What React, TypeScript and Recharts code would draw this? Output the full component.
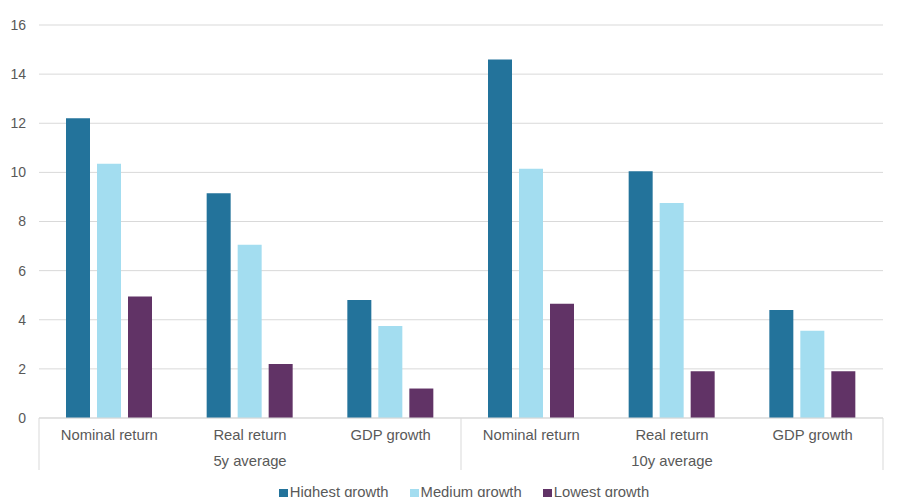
import { BarChart, Bar, XAxis, YAxis, CartesianGrid, Legend } from 'recharts';

const categories = ['Nominal return', 'Real return', 'GDP growth', 'Nominal return', 'Real return', 'GDP growth'];
const periods = ['5y average', '5y average', '5y average', '10y average', '10y average', '10y average'];
const highestGrowth = [12.2, 9.15, 4.8, 14.6, 10.05, 4.4];
const mediumGrowth = [10.35, 7.05, 3.75, 10.15, 8.75, 3.55];
const lowestGrowth = [4.95, 2.2, 1.2, 4.65, 1.9, 1.9];
const seriesNames = ['Highest growth', 'Medium growth', 'Lowest growth'];
const yTicks = [0, 2, 4, 6, 8, 10, 12, 14, 16];

const data = categories.map((name, i) => ({
  key: `${periods[i]}|${name}`,
  name,
  period: periods[i],
  highest: highestGrowth[i],
  medium: mediumGrowth[i],
  lowest: lowestGrowth[i],
}));

const TEXT = '#595959';
const LINE = '#d9d9d9';
const FONT = '"Liberation Sans", Arial, sans-serif';
const FS = 14.8;

// two-level category axis: category name, period label under the middle one, separators between periods
function CategoryTick(props: any) {
  const { x, y, payload, index } = props;
  const half = payload?.offset ?? 70.3;
  const row = data[index];
  const groupStart = index === 0 || row.period !== data[index - 1].period;
  const groupEnd = index === data.length - 1;
  const groupMiddle = index === 1 || index === 4;
  return (
    <g>
      <text x={x} y={y + 22} textAnchor="middle" fill={TEXT} fontSize={FS} fontFamily={FONT}>
        {row.name}
      </text>
      {groupMiddle && (
        <text x={x} y={y + 48} textAnchor="middle" fill={TEXT} fontSize={FS} fontFamily={FONT}>
          {row.period}
        </text>
      )}
      {groupStart && <line x1={x - half} x2={x - half} y1={y} y2={y + 52} stroke={LINE} />}
      {groupEnd && <line x1={x + half} x2={x + half} y1={y} y2={y + 52} stroke={LINE} />}
    </g>
  );
}

export default function App() {
  return (
    <div style={{ position: 'absolute', left: 0, top: 0, width: 912, height: 497, background: '#fff', overflow: 'hidden' }}>
      <BarChart
        width={912}
        height={497}
        data={data}
        margin={{ top: 25, right: 0, left: 0, bottom: 0 }}
        barSize={24}
        barGap={7}
      >
        <CartesianGrid vertical={false} stroke={LINE} yAxisId="left" />
        <XAxis
          dataKey="key"
          height={59}
          interval={0}
          tickLine={false}
          tickSize={0}
          tickMargin={0}
          axisLine={{ stroke: LINE }}
          tick={<CategoryTick />}
        />
        <YAxis
          yAxisId="left"
          orientation="left"
          width={39}
          domain={[0, 16]}
          ticks={yTicks}
          axisLine={false}
          tickLine={false}
          tickSize={0}
          tickMargin={13}
          tick={{ fill: TEXT, fontSize: 14, fontFamily: FONT }}
        />
        <YAxis
          yAxisId="right"
          orientation="right"
          width={29}
          domain={[0, 16]}
          ticks={yTicks}
          axisLine={false}
          tickLine={false}
          tickSize={0}
          tickMargin={10}
          tick={{ fill: TEXT, fontSize: 14, fontFamily: FONT, textAnchor: 'start' }}
        />
        <Legend
          verticalAlign="bottom"
          align="center"
          iconType="square"
          iconSize={9}
          itemSorter={(item: any) => seriesNames.indexOf(item.value)}
          wrapperStyle={{ fontSize: FS, fontFamily: FONT, lineHeight: '20px', bottom: -5, left: 13 }}
          formatter={(value: string) => (
            <span style={{ color: TEXT, marginRight: value === 'Lowest growth' ? 0 : 11, marginLeft: -2 }}>{value}</span>
          )}
        />
        <Bar yAxisId="left" dataKey="highest" name="Highest growth" fill="#23739b" isAnimationActive={false} />
        <Bar yAxisId="left" dataKey="medium" name="Medium growth" fill="#a3ddf0" isAnimationActive={false} />
        <Bar yAxisId="left" dataKey="lowest" name="Lowest growth" fill="#613366" isAnimationActive={false} />
      </BarChart>
    </div>
  );
}
